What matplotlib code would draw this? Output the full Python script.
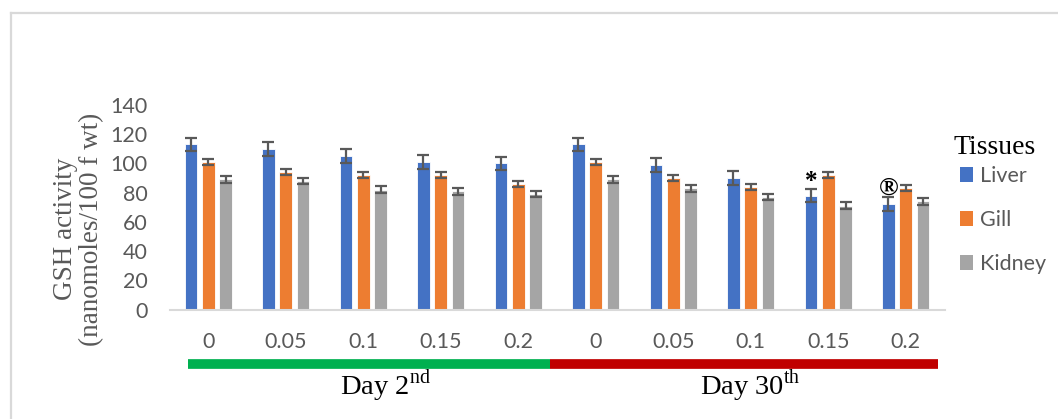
import matplotlib.pyplot as plt
import numpy as np
from matplotlib.patches import Patch
from matplotlib.lines import Line2D
import matplotlib.transforms as mtransforms

plt.rcParams['mathtext.fontset'] = 'custom'
plt.rcParams['mathtext.rm'] = 'Liberation Serif'

conc_labels = ['0', '0.05', '0.1', '0.15', '0.2', '0', '0.05', '0.1', '0.15', '0.2']
tissues = ['Liver', 'Gill', 'Kidney']
colors = ['#4472C4', '#ED7D31', '#A5A5A5']

liver = [113, 110, 105, 101, 100, 113, 99, 90, 78, 72]
gill = [101, 94, 92, 92, 86, 101, 90, 84, 92, 83]
kidney = [89, 88, 82, 81, 79, 89, 83, 77, 71, 74]

liver_err = [4.7, 4.8, 4.8, 4.8, 4.7, 4.7, 4.8, 4.8, 4.7, 4.7]
gill_err = [2.2, 2.2, 2.2, 2.2, 2.2, 2.2, 2.2, 2.2, 2.2, 2.2]
kidney_err = [2.3, 2.3, 2.3, 2.3, 2.3, 2.3, 2.3, 2.3, 2.3, 2.3]

# day periods: label, label centre, strip start, strip end (group units), colour
periods = [('Day 2$^{\\mathrm{nd}}$', 2.29, -0.26, 4.41, '#00B050'),
           ('Day 30$^{\\mathrm{th}}$', 7.0, 4.41, 9.42, '#C00000')]

W, H = 1058, 419
fig = plt.figure(figsize=(W / 100, H / 100), dpi=100)
ax = fig.add_axes([169.5 / W, 1 - 309.5 / H, (944.5 - 169.5) / W, (309.5 - 105) / H])

x = np.arange(len(conc_labels))
width = 0.165
offset = 0.223
series = [(liver, liver_err), (gill, gill_err), (kidney, kidney_err)]
for i, (vals, errs) in enumerate(series):
    ax.bar(x + (i - 1) * offset, vals, width, color=colors[i], edgecolor='white', linewidth=0.6,
           yerr=errs, error_kw=dict(ecolor='#595959', elinewidth=1.6, capsize=4.6, capthick=1.6),
           label=tissues[i], zorder=2)

ax.set_xlim(-0.5, len(conc_labels) - 0.5)
ax.set_ylim(0, 140)
ax.set_yticks(range(0, 141, 20))
ax.set_xticks(x)
ax.set_xticklabels(conc_labels)
ax.tick_params(length=0, labelsize=15.5, labelcolor='#595959')
ax.tick_params(axis='y', pad=16)
ax.tick_params(axis='x', pad=16)
for lab in ax.get_xticklabels() + ax.get_yticklabels():
    lab.set_fontfamily('Lato')
for s in ['top', 'right', 'left']:
    ax.spines[s].set_visible(False)
ax.spines['bottom'].set_color('#D9D9D9')
ax.spines['bottom'].set_linewidth(1.5)

ax.set_ylabel('GSH activity\n(nanomoles/100 f wt)', fontfamily='Liberation Serif', fontsize=19.5,
              color='#595959', linespacing=1.05)
ax.yaxis.set_label_coords(-0.084, 0.394)

# significance marks
ax.annotate('*', (8 - offset, liver[8] + liver_err[8]), xytext=(0, -3), textcoords='offset points',
            ha='center', va='bottom', fontsize=18, fontfamily='Liberation Serif', fontweight='bold')
ax.annotate('\u00ae', (9 - offset, liver[9] + liver_err[9]), xytext=(0, -2), textcoords='offset points',
            ha='center', va='bottom', fontsize=19, fontfamily='Liberation Serif', fontweight='bold')

# day strips and labels
trans = mtransforms.blended_transform_factory(ax.transData, ax.transAxes)
for label, xc, x0, x1, col in periods:
    ax.plot([x0, x1], [-0.265, -0.265], color=col, lw=7, solid_capstyle='butt',
            transform=trans, clip_on=False)
    ax.text(xc, -0.413, label, transform=trans, ha='center', va='baseline',
            fontsize=20.5, fontfamily='Liberation Serif')

fig.text(953 / W, 1 - 147 / H, 'Tissues', ha='left', va='center', fontsize=20,
         fontfamily='Liberation Serif')
handles = [Patch(facecolor=c, edgecolor='none') for c in colors]
leg = fig.legend(handles, tissues, loc='upper left', bbox_to_anchor=(960 / W, 1 - 166 / H),
                 frameon=False, handlelength=0.62, handleheight=0.65, borderpad=0, borderaxespad=0,
                 handletextpad=0.33, labelspacing=1.12, prop={'family': 'Lato', 'size': 15.5})
for t in leg.get_texts():
    t.set_color('#595959')

# outer chart border
fig.add_artist(Line2D([10.5 / W, 10.5 / W], [-0.1, 1 - 13 / H], color='#D9D9D9', lw=1.6))
fig.add_artist(Line2D([10.5 / W, 1.1], [1 - 13 / H, 1 - 13 / H], color='#D9D9D9', lw=1.6))

fig.savefig('out.png', dpi=100)
